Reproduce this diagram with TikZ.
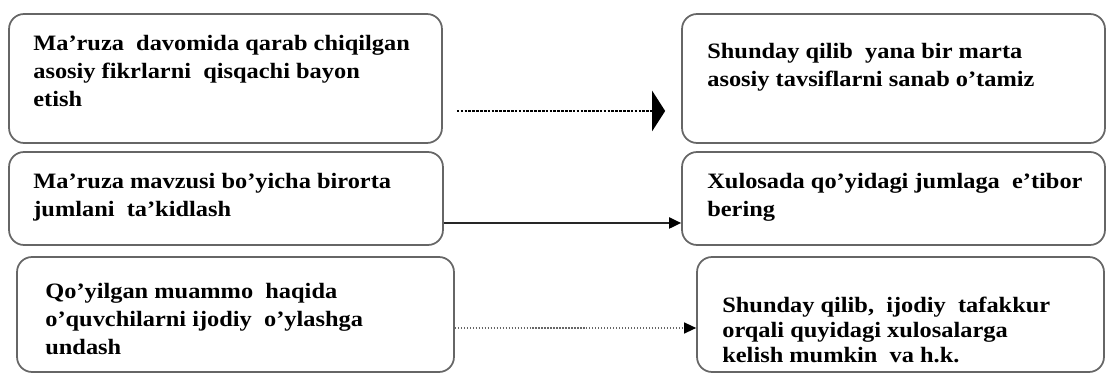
\documentclass[tikz,border=0pt]{standalone}
\usepackage{fontspec}
\setmainfont{Liberation Serif}[FakeStretch=1.11]
\usetikzlibrary{arrows.meta}
\begin{document}
\begin{tikzpicture}[x=0.02cm, y=-0.02cm,
  box/.style={draw=black!60, line width=1pt, rounded corners=0.3cm, inner sep=0pt},
  txt/.style={anchor=north west, align=left, inner sep=0pt,
    font=\bfseries\fontsize{12.5}{15.9}\selectfont},
  link/.style={line width=1.1pt, draw=black!85, -{Triangle[length=0.24cm,width=0.22cm,color=black]}}]
\useasboundingbox (0,0) rectangle (1106,374);
% boxes
\node[box, minimum width=8.66cm, minimum height=2.58cm] (l1) at (225.5,78.5) {};
\node[box, minimum width=8.46cm, minimum height=2.58cm] (r1) at (893.5,78.5) {};
\node[box, minimum width=8.68cm, minimum height=1.86cm] (l2) at (226,198.5) {};
\node[box, minimum width=8.46cm, minimum height=1.86cm] (r2) at (893.5,198.5) {};
\node[box, minimum width=8.74cm, minimum height=2.30cm] (l3) at (235.5,314.5) {};
\node[box, minimum width=8.14cm, minimum height=2.30cm] (r3) at (900.5,314.5) {};
% texts
\node[txt] (t1) at (33,35) {Ma’ruza\ \ davomida qarab chiqilgan\\asosiy fikrlarni\ \ qisqachi bayon\\etish};
\node[txt] (u1) at (707,43) {Shunday qilib\ \ yana bir marta\\asosiy tavsiflarni sanab o’tamiz};
\node[txt] (t2) at (33,173) {Ma’ruza mavzusi bo’yicha birorta\\jumlani\ \ ta’kidlash};
\node[txt] (u2) at (707,173) {Xulosada qo’yidagi jumlaga\ \ e’tibor\\bering};
\node[txt] (t3) at (45,283) {Qo’yilgan muammo\ \ haqida\\o’quvchilarni ijodiy\ \ o’ylashga\\undash};
\node[txt, font=\bfseries\fontsize{12.5}{14.2}\selectfont] (u3) at (722,297)
  {Shunday qilib,\ \ ijodiy\ \ tafakkur\\orqali quyidagi xulosalarga\\kelish mumkin\ \ va h.k.};
% arrows
\draw[line width=1.6pt, dash pattern=on 1.5pt off 0.7pt, shorten <=0.28cm, shorten >=0.32cm,
  -{Triangle[length=0.26cm,width=0.8cm]}] ([yshift=-0.65cm]l1.east) -- ([yshift=-0.65cm]r1.west);
\draw[link] ([yshift=-0.49cm]l2.east) -- ([yshift=-0.49cm]r2.west);
\draw[link, line width=0.7pt, draw=black!60, densely dotted] ([yshift=-0.27cm]l3.east) -- ([yshift=-0.27cm]r3.west);
\end{tikzpicture}
\end{document}
